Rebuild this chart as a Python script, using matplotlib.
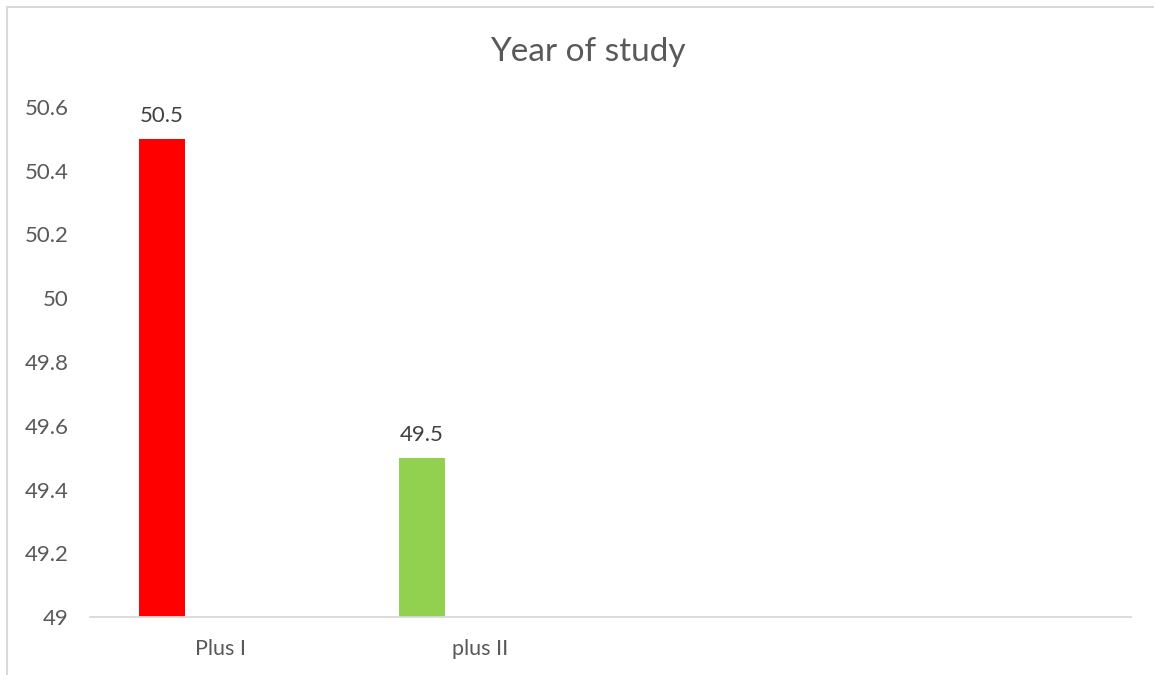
import matplotlib
matplotlib.use("Agg")
import matplotlib.pyplot as plt
from matplotlib.patches import Rectangle

# 資料
categories = ["Plus I", "plus II"]
values = [50.5, 49.5]
bar_colors = ["#ff0000", "#92d050"]
y_ticks = [49, 49.2, 49.4, 49.6, 49.8, 50, 50.2, 50.4, 50.6]
y_tick_labels = ["49", "49.2", "49.4", "49.6", "49.8", "50", "50.2", "50.4", "50.6"]
n_slots = 4  # 類別軸上共有 4 個位置，後兩個為空

plt.rcParams['font.family'] = ['Lato', 'DejaVu Sans']

fig = plt.figure(figsize=(11.54, 6.75), dpi=100)
ax = fig.add_axes([0.078, 0.0859, 0.902, 0.7556])

x_pos = list(range(len(categories)))
bar_x = [x - 0.225 for x in x_pos]
bars = ax.bar(bar_x, values, width=0.177, color=bar_colors, bottom=0)

ax.set_ylim(49, 50.6)
ax.set_xlim(-0.5, n_slots - 0.5)
ax.set_yticks(y_ticks)
ax.set_yticklabels(y_tick_labels)
ax.set_xticks(x_pos)
ax.set_xticklabels(categories)
ax.tick_params(axis='y', length=0, pad=15.5, labelsize=16, labelcolor='#595959')
ax.tick_params(axis='x', length=0, pad=16, labelsize=15.5, labelcolor='#595959')

for s in ['top', 'right', 'left']:
    ax.spines[s].set_visible(False)
ax.spines['bottom'].set_color('#d9d9d9')
ax.spines['bottom'].set_linewidth(1.3)

# 數據標籤
for bx, v in zip(bar_x, values):
    ax.annotate(f"{v}", (bx, v), xytext=(0, 9), textcoords='offset points',
                ha='center', va='bottom', fontsize=16, color='#404040')

fig.text(0.5095, 0.923, "Year of study", ha='center', va='center',
         fontsize=24, color='#595959')

# 外框
fig.patches.append(Rectangle((0.0061, -0.1), 1.5, 1.0896, transform=fig.transFigure,
                             fill=False, edgecolor='#d9d9d9', linewidth=1.5))

fig.savefig("out.png", dpi=100)
